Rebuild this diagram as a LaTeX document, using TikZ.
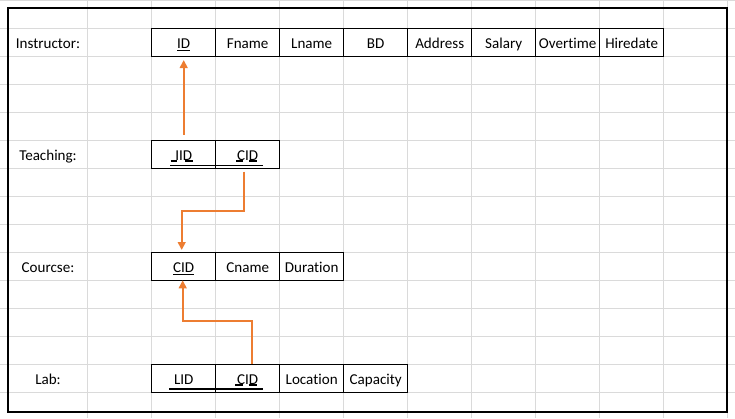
\documentclass[tikz,border=0pt]{standalone}
\usepackage{fontspec}
\setmainfont[Ligatures=NoCommon]{Carlito}
\usetikzlibrary{positioning,arrows.meta}
\definecolor{gridgray}{HTML}{DADADA}
\definecolor{fkorange}{HTML}{ED7D31}
\tikzset{
  cell/.style={draw, line width=0.75pt, minimum width=48pt, minimum height=21pt, inner sep=0pt, outer sep=0pt, text height=9.6pt, text depth=0pt, font=\fontsize{11.3pt}{13pt}\selectfont},
  tablename/.style={inner sep=0pt, minimum height=21pt, text height=9.6pt, text depth=0pt, font=\fontsize{11.3pt}{13pt}\selectfont},
  fk/.style={draw=fkorange, line width=1.5pt, -{Triangle[width=5.8pt,length=6pt]}},
  keyline/.style={line width=1.25pt}
}

\begin{document}
\begin{tikzpicture}[x=0.75pt, y=-0.75pt]
\useasboundingbox (0,0) rectangle (735,418);
\foreach \gx in {0,...,10} \draw[gridgray, line width=0.75pt] (87.7+64*\gx,0) -- (87.7+64*\gx,418);
\foreach \gy in {0,...,14} \draw[gridgray, line width=0.75pt] (0,0.3+28*\gy) -- (735,0.3+28*\gy);
\draw[line width=1.5pt] (8,8) rectangle (727,412);

\node[tablename] (nInstructor) at (48,42.3) {Instructor:};
\node[cell] (iID) at (183.7,42.3) {\underline{ID}};
\node[cell, right=0pt of iID] (iFname) {Fname};
\node[cell, right=0pt of iFname] (iLname) {Lname};
\node[cell, right=0pt of iLname] (iBD) {BD};
\node[cell, right=0pt of iBD] (iAddress) {Address};
\node[cell, right=0pt of iAddress] (iSalary) {Salary};
\node[cell, right=0pt of iSalary] (iOvertime) {Overtime};
\node[cell, right=0pt of iOvertime] (iHiredate) {Hiredate};

\node[tablename] (nTeaching) at (48,154.3) {Teaching:};
\node[cell] (tIID) at (183.7,154.3) {IID};
\node[cell, right=0pt of tIID] (tCID) {CID};

\node[tablename] (nCourcse) at (48,266.3) {Courcse:};
\node[cell] (cCID) at (183.7,266.3) {\underline{CID}};
\node[cell, right=0pt of cCID] (cCname) {Cname};
\node[cell, right=0pt of cCname] (cDuration) {Duration};

\node[tablename] (nLab) at (48,378.3) {Lab:};
\node[cell] (lLID) at (183.7,378.3) {LID};
\node[cell, right=0pt of lLID] (lCID) {CID};
\node[cell, right=0pt of lCID] (lLocation) {Location};
\node[cell, right=0pt of lLocation] (lCapacity) {Capacity};

\draw[keyline] ([shift={(-13.7,11.2)}]tIID.center) -- ([shift={(15.6,11.2)}]tCID.center);
\draw[keyline] ([shift={(-13,7)}]tIID.center) -- ++(6,0);
\draw[keyline] ([shift={(1.3,7)}]tIID.center) -- ++(7.7,0);
\draw[keyline] ([shift={(-11.7,7)}]tCID.center) -- ++(7.3,0);
\draw[keyline] ([shift={(1.6,7)}]tCID.center) -- ++(8,0);
\draw[keyline] ([shift={(-14.7,11)}]lLID.center) -- ([shift={(15.6,11)}]lCID.center);
\draw[keyline] ([shift={(-12.4,7)}]lCID.center) -- ++(8,0);
\draw[keyline] ([shift={(1,7)}]lCID.center) -- ++(8.6,0);

\draw[fk] ([yshift=3.98pt]tIID.north) -- ([yshift=-2.78pt]iID.south);
\draw[fk] ([shift={(-3.4,3.4)}]tCID.south) -- ++(0,39.3) -| ([shift={(-2,-2.3)}]cCID.north);
\draw[fk] ([shift={(4.6,0)}]lCID.north) -- ++(0,-43.3) -| ([shift={(-1,0)}]cCID.south);
\end{tikzpicture}
\end{document}
